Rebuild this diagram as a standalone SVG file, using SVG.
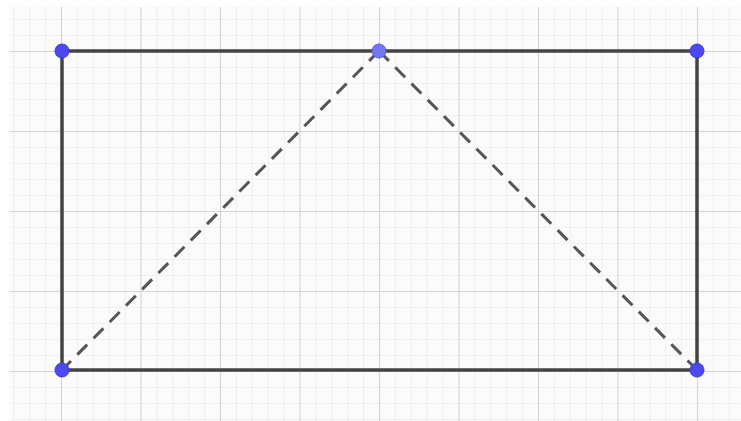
<svg xmlns="http://www.w3.org/2000/svg" width="741" height="421" viewBox="0 0 741 421">
<defs>
<pattern id="minor" x="61" y="51" width="15.9" height="16" patternUnits="userSpaceOnUse">
<path d="M0 0V16M0 0H15.9" fill="none" stroke="#e6e6e6" stroke-width="1.2"/>
</pattern>
<pattern id="major" x="61" y="51" width="79.5" height="80" patternUnits="userSpaceOnUse">
<path d="M0 0V80M0 0H79.5" fill="none" stroke="#cdcdcd" stroke-width="1.6"/>
</pattern>
</defs>
<style>
.edge{stroke:#444;stroke-width:3.5;fill:none;stroke-linecap:round}
.dash{stroke:#555;stroke-width:3;fill:none;stroke-dasharray:14 9}
.pt{fill:#4a4af0;stroke:#3a3ad8;stroke-width:1}
.pt2{fill:#7676ee;stroke:#5a5ad8;stroke-width:1}
</style>
<rect width="741" height="421" fill="#ffffff"/>
<rect x="10" y="7" width="731" height="414" fill="#fbfbfb"/>
<rect x="10" y="7" width="731" height="414" fill="url(#minor)"/>
<rect x="10" y="7" width="731" height="414" fill="url(#major)"/>
<g id="connectors">
<path class="edge" d="M62 51H697V370H62Z"/>
<path class="dash" d="M379 51L62 370"/>
<path class="dash" d="M379 51L697 370"/>
</g>
<g id="A"><circle class="pt" cx="62" cy="51" r="7"/></g>
<g id="B"><circle class="pt2" cx="379" cy="51" r="7"/></g>
<g id="C"><circle class="pt" cx="697" cy="51" r="7"/></g>
<g id="D"><circle class="pt" cx="697" cy="370" r="7"/></g>
<g id="E"><circle class="pt" cx="62" cy="370" r="7"/></g>
</svg>
